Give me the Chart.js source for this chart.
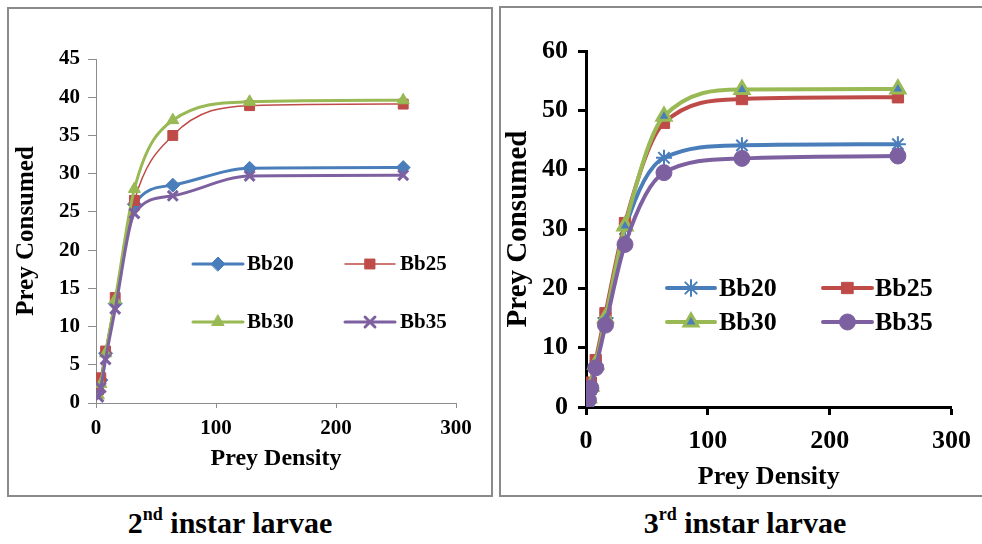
<!DOCTYPE html>
<html>
<head>
<meta charset="utf-8">
<script src="https://cdn.jsdelivr.net/npm/chart.js@4/dist/chart.umd.min.js"></script>
<style>
  body { margin: 0; background: #fff; width: 982px; height: 544px; overflow: hidden; position: relative; font-family: "Liberation Serif", "Times New Roman", serif; }
  .panel { position: absolute; border: 2px solid #8a8a8a; box-sizing: border-box; }
  .cv { position: absolute; top: 0; }
  .cap { position: absolute; top: 506px; font-weight: bold; font-size: 30px; color: #000; text-align: center; width: 400px; }
  .cap sup { font-size: 18px; vertical-align: 0; position: relative; top: -13px; }
</style>
</head>
<body>
<div class="panel" style="left:7px; top:7px; width:486px; height:490px;"></div>
<div class="panel" style="left:499px; top:6px; width:540px; height:491px;"></div>
<canvas id="graf2" class="cv" style="left:0px;" width="490" height="500"></canvas>
<canvas id="graf3" class="cv" style="left:495px;" width="487" height="500"></canvas>
<div class="cap" style="left:30px;">2<sup>nd</sup> instar larvae</div>
<div class="cap" style="left:545px;">3<sup>rd</sup> instar larvae</div>
<script>
const densidade = [2, 4, 8, 16, 32, 64, 128, 256];
const nomes = ["Bb20", "Bb25", "Bb30", "Bb35"];

// 2nd instar
const l2_bb20 = [1.5, 3.0, 6.5, 13.0, 26.0, 28.5, 30.7, 30.8];
const l2_bb25 = [1.7, 3.3, 6.8, 13.8, 26.5, 35.0, 38.9, 39.1];
const l2_bb30 = [1.0, 2.5, 6.5, 13.5, 28.0, 37.0, 39.4, 39.6];
const l2_bb35 = [0.8, 2.0, 5.7, 12.3, 24.8, 27.1, 29.7, 29.8];

// 3rd instar
const l3_bb20 = [1.0, 3.0, 7.0, 15.0, 30.0, 42.0, 44.1, 44.3];
const l3_bb25 = [2.0, 4.1, 7.9, 15.8, 31.0, 47.9, 51.9, 52.2];
const l3_bb30 = [1.5, 3.5, 7.2, 15.0, 30.5, 49.0, 53.5, 53.6];
const l3_bb35 = [1.2, 3.2, 6.6, 13.8, 27.4, 39.5, 41.9, 42.3];

const azul = "#4A7EBB", vermelho = "#BE4B48", verde = "#98B954", roxo = "#7D60A0";
const fonte = "'Liberation Serif', 'Times New Roman', serif";

function pontos(vals) {
  return densidade.map((x, i) => ({ x: x, y: vals[i] }));
}

// legend drawn inside the plot area
const legendaDentro = {
  id: "legendaDentro",
  afterDatasetsDraw(chart, args, opts) {
    const ctx = chart.ctx;
    const a = chart.chartArea;
    ctx.save();
    chart.data.datasets.forEach((ds, i) => {
      const it = opts.itens[i];
      const y = a.top + it.y;
      ctx.strokeStyle = ds.borderColor;
      ctx.lineWidth = ds.borderWidth;
      ctx.lineCap = "round";
      ctx.beginPath();
      ctx.moveTo(a.left + it.x1, y);
      ctx.lineTo(a.left + it.x2, y);
      ctx.stroke();
      ctx.fillStyle = ds.pointBackgroundColor;
      ctx.strokeStyle = ds.pointBorderColor;
      ctx.lineWidth = ds.pointBorderWidth;
      Chart.helpers.drawPoint(ctx, {
        pointStyle: ds.pointStyle, rotation: 0,
        radius: ds.pointRadius, borderWidth: ds.pointBorderWidth
      }, a.left + (it.x1 + it.x2) / 2, y);
      ctx.fillStyle = "#000";
      ctx.font = "bold " + opts.tamanho + "px " + fonte;
      ctx.textBaseline = "middle";
      ctx.textAlign = "left";
      ctx.fillText(ds.label, a.left + it.tx, y + 1);
    });
    ctx.restore();
  }
};

function serie(nome, vals, cor, estilo, raio, larg, fundo, bw) {
  return {
    label: nome,
    data: pontos(vals),
    showLine: true,
    borderColor: cor,
    borderWidth: larg,
    cubicInterpolationMode: "monotone",
    pointStyle: estilo,
    pointRadius: raio,
    pointBackgroundColor: fundo || cor,
    pointBorderColor: cor,
    pointBorderWidth: bw === undefined ? 1 : bw
  };
}

function opcoes(cfg) {
  return {
    responsive: false,
    animation: false,
    layout: { padding: cfg.padding },
    plugins: {
      legend: { display: false },
      tooltip: { enabled: false },
      legendaDentro: { itens: cfg.legenda, tamanho: cfg.tamLegenda }
    },
    scales: {
      x: {
        type: "linear", min: 0, max: 300,
        afterFit: s => { s.height = cfg.alturaX; },
        ticks: { stepSize: 100, padding: cfg.padX, color: "#000", font: { family: fonte, size: cfg.tamTick, weight: "bold" } },
        grid: { drawOnChartArea: false, tickLength: cfg.tickX, color: cfg.corEixo, tickWidth: cfg.largTick },
        border: { color: cfg.corEixo, width: cfg.largEixo },
        title: { display: true, text: "Prey Density", color: "#000", padding: { top: 0, bottom: cfg.padTituloX }, font: { family: fonte, size: cfg.tamTituloX, weight: "bold" } }
      },
      y: {
        type: "linear", min: 0, max: cfg.maxY,
        afterFit: s => { s.width = cfg.larguraY; },
        ticks: { stepSize: cfg.passoY, padding: cfg.padY, color: "#000", font: { family: fonte, size: cfg.tamTick, weight: "bold" } },
        grid: { drawOnChartArea: false, tickLength: cfg.tickY, color: cfg.corEixo, tickWidth: cfg.largTick },
        border: { color: cfg.corEixo, width: cfg.largEixo },
        title: { display: true, text: "Prey Consumed", color: "#000", padding: { top: cfg.padTituloY, bottom: 0 }, font: { family: fonte, size: cfg.tamTituloY, weight: "bold" } }
      }
    }
  };
}

const ds2 = [
  serie(nomes[0], l2_bb20, azul, "rectRot", 7, 3),
  serie(nomes[1], l2_bb25, vermelho, "rect", 7, 1.5),
  serie(nomes[2], l2_bb30, verde, "triangle", 7, 3),
  serie(nomes[3], l2_bb35, roxo, "crossRot", 7, 3, null, 3)
];
ds2.forEach((d, i) => { d.order = 3 - i; });

new Chart(document.getElementById("graf2"), {
  type: "scatter",
  data: { datasets: ds2 },
  options: opcoes({
    padding: { left: 0, top: 59, right: 34, bottom: 0 },
    alturaX: 97, larguraY: 96, maxY: 45, passoY: 5,
    tamTick: 21, tamTituloX: 24, tamTituloY: 25, tamLegenda: 21,
    padX: 8, tickX: 5, padY: 8, tickY: 8,
    padTituloX: 27, padTituloY: 12,
    corEixo: "#8c8c8c", largEixo: 1, largTick: 1,
    legenda: [
      { x1: 97, x2: 147, tx: 151, y: 205 },
      { x1: 249, x2: 299, tx: 304, y: 205 },
      { x1: 97, x2: 147, tx: 151, y: 263 },
      { x1: 249, x2: 299, tx: 304, y: 263 }
    ]
  }),
  plugins: [legendaDentro]
});

const ds3 = [
  serie(nomes[0], l3_bb20, azul, "star", 8, 4, null, 2),
  serie(nomes[1], l3_bb25, vermelho, "rect", 8, 4),
  serie(nomes[2], l3_bb30, verde, "triangle", 8, 4, azul, 3),
  serie(nomes[3], l3_bb35, roxo, "circle", 8, 4)
];
ds3.forEach((d, i) => { d.order = 3 - i; });

new Chart(document.getElementById("graf3"), {
  type: "scatter",
  data: { datasets: ds3 },
  options: opcoes({
    padding: { left: 0, top: 51, right: 23, bottom: 0 },
    alturaX: 93, larguraY: 91, maxY: 60, passoY: 10,
    tamTick: 26, tamTituloX: 26, tamTituloY: 29, tamLegenda: 26,
    padX: 11, tickX: 8, padY: 10, tickY: 8,
    padTituloX: 7, padTituloY: 6,
    corEixo: "#000", largEixo: 3, largTick: 3,
    legenda: [
      { x1: 81, x2: 129, tx: 133, y: 237 },
      { x1: 237, x2: 286, tx: 289, y: 237 },
      { x1: 81, x2: 129, tx: 133, y: 271 },
      { x1: 237, x2: 286, tx: 289, y: 271 }
    ]
  }),
  plugins: [legendaDentro]
});
</script>
</body>
</html>
